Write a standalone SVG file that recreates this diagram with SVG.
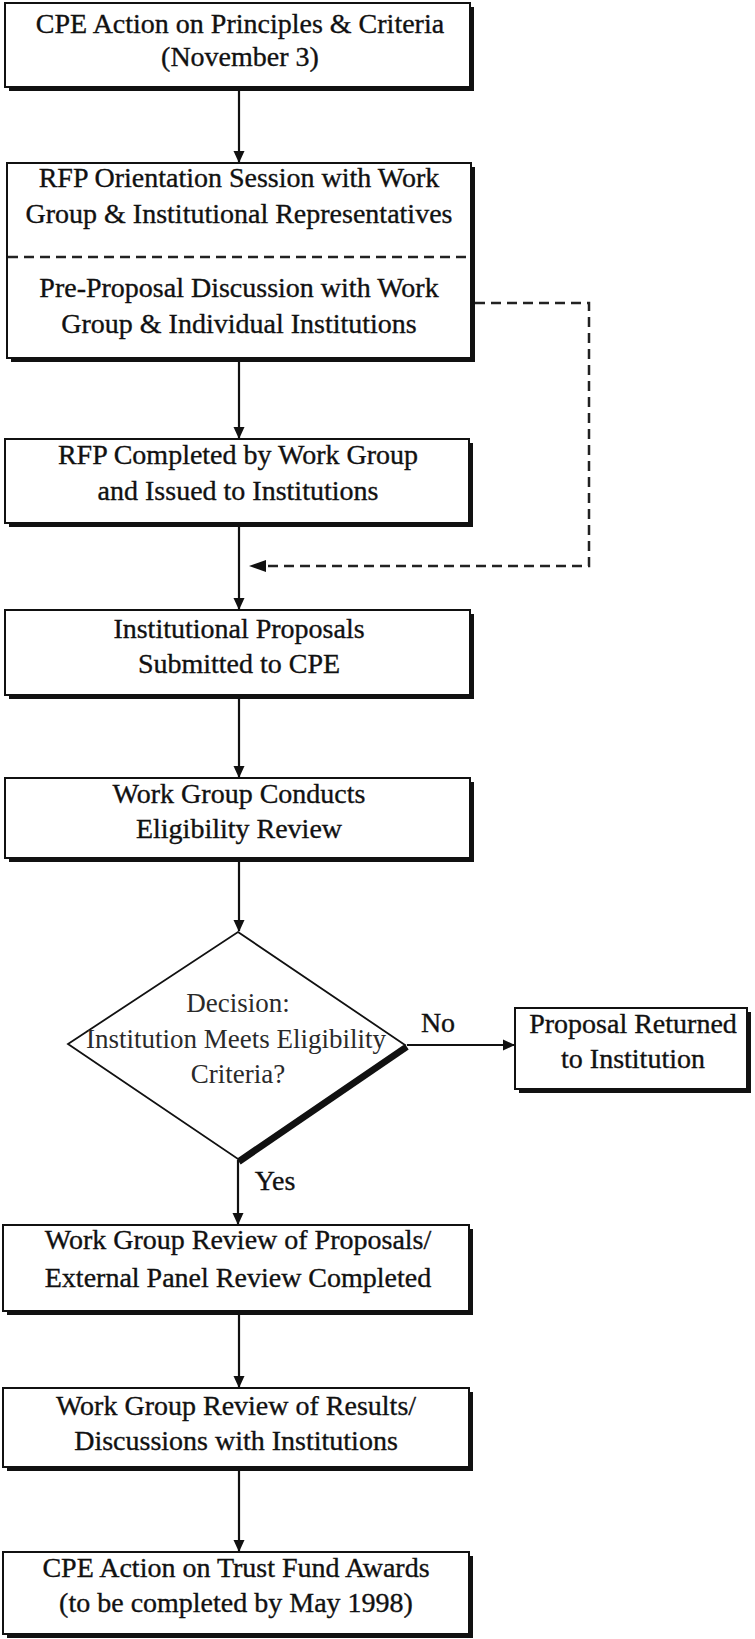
<svg xmlns="http://www.w3.org/2000/svg" width="755" height="1639" viewBox="0 0 755 1639">
<style>
.box{fill:#fff;stroke:#111;stroke-width:2}
.sh{fill:#111}
.t{font-family:"Liberation Serif","Times New Roman",serif;font-size:28px;fill:#111;stroke:#111;stroke-width:0.35;text-anchor:middle}
.dt{font-family:"Liberation Serif","Times New Roman",serif;font-size:27px;fill:#2a2a2a;text-anchor:middle}
.ln{stroke:#111;stroke-width:2.2;fill:none}
.dash{stroke:#222;stroke-width:2.5;fill:none;stroke-dasharray:10 6}
</style>
<defs>
<marker id="ah" markerWidth="12" markerHeight="12" refX="11" refY="6" orient="auto" markerUnits="userSpaceOnUse">
<path d="M0,0.5 L12,6 L0,11.5 Z" fill="#111"/>
</marker>
</defs>
<rect width="755" height="1639" fill="#fff"/>

<g id="connectors">
<line class="ln" x1="239" y1="91" x2="239" y2="162" marker-end="url(#ah)"/>
<line class="ln" x1="239" y1="362" x2="239" y2="438" marker-end="url(#ah)"/>
<line class="ln" x1="239" y1="527" x2="239" y2="609" marker-end="url(#ah)"/>
<line class="ln" x1="239" y1="699" x2="239" y2="777" marker-end="url(#ah)"/>
<line class="ln" x1="239" y1="862" x2="239" y2="931" marker-end="url(#ah)"/>
<line class="ln" x1="238" y1="1160" x2="238" y2="1224" marker-end="url(#ah)"/>
<line class="ln" x1="239" y1="1315" x2="239" y2="1387" marker-end="url(#ah)"/>
<line class="ln" x1="239" y1="1471" x2="239" y2="1551" marker-end="url(#ah)"/>
<line class="ln" x1="407" y1="1045" x2="514" y2="1045" marker-end="url(#ah)"/>
<path class="dash" d="M475,303 H589 V566 H264"/>
<path d="M249,566 L266,560 L266,572 Z" fill="#111"/>
<text class="t" x="438" y="1032">No</text>
<text class="t" x="275" y="1190">Yes</text>
</g>

<g id="n1">
<rect class="sh" x="9" y="7" width="465" height="84"/>
<rect class="box" x="5" y="3" width="465" height="84"/>
<text class="t" x="240" y="33">CPE Action on Principles &amp; Criteria</text>
<text class="t" x="240" y="66">(November 3)</text>
</g>

<g id="n2">
<rect class="sh" x="11" y="167" width="464" height="195"/>
<rect class="box" x="7" y="163" width="464" height="195"/>
<line class="dash" x1="8" y1="257" x2="470" y2="257"/>
<text class="t" x="239" y="187">RFP Orientation Session with Work</text>
<text class="t" x="239" y="223">Group &amp; Institutional Representatives</text>
<text class="t" x="239" y="297">Pre-Proposal Discussion with Work</text>
<text class="t" x="239" y="333">Group &amp; Individual Institutions</text>
</g>

<g id="n3">
<rect class="sh" x="9" y="443" width="464" height="84"/>
<rect class="box" x="5" y="439" width="464" height="84"/>
<text class="t" x="238" y="464">RFP Completed by Work Group</text>
<text class="t" x="238" y="500">and Issued to Institutions</text>
</g>

<g id="n4">
<rect class="sh" x="9" y="614" width="465" height="85"/>
<rect class="box" x="5" y="610" width="465" height="85"/>
<text class="t" x="239" y="638">Institutional Proposals</text>
<text class="t" x="239" y="673">Submitted to CPE</text>
</g>

<g id="n5">
<rect class="sh" x="9" y="782" width="465" height="80"/>
<rect class="box" x="5" y="778" width="465" height="80"/>
<text class="t" x="239" y="803">Work Group Conducts</text>
<text class="t" x="239" y="838">Eligibility Review</text>
</g>

<g id="n6">
<line x1="407" y1="1047" x2="239" y2="1162" stroke="#111" stroke-width="6"/>
<polygon points="238,932 405,1045 238,1159 68,1044" fill="#fff" stroke="#111" stroke-width="1.8"/>
<text class="dt" x="238" y="1012">Decision:</text>
<text class="dt" x="236" y="1048">Institution Meets Eligibility</text>
<text class="dt" x="238" y="1083">Criteria?</text>
</g>

<g id="n7">
<rect class="sh" x="519" y="1012" width="232" height="81"/>
<rect class="box" x="515" y="1008" width="232" height="81"/>
<text class="t" x="633" y="1033">Proposal Returned</text>
<text class="t" x="633" y="1068">to Institution</text>
</g>

<g id="n8">
<rect class="sh" x="7" y="1229" width="466" height="86"/>
<rect class="box" x="3" y="1225" width="466" height="86"/>
<text class="t" x="238" y="1249">Work Group Review of Proposals/</text>
<text class="t" x="238" y="1287">External Panel Review Completed</text>
</g>

<g id="n9">
<rect class="sh" x="7" y="1392" width="466" height="79"/>
<rect class="box" x="3" y="1388" width="466" height="79"/>
<text class="t" x="236" y="1415">Work Group Review of Results/</text>
<text class="t" x="236" y="1450">Discussions with Institutions</text>
</g>

<g id="n10">
<rect class="sh" x="7" y="1556" width="466" height="82"/>
<rect class="box" x="3" y="1552" width="466" height="82"/>
<text class="t" x="236" y="1577">CPE Action on Trust Fund Awards</text>
<text class="t" x="236" y="1612">(to be completed by May 1998)</text>
</g>
</svg>
